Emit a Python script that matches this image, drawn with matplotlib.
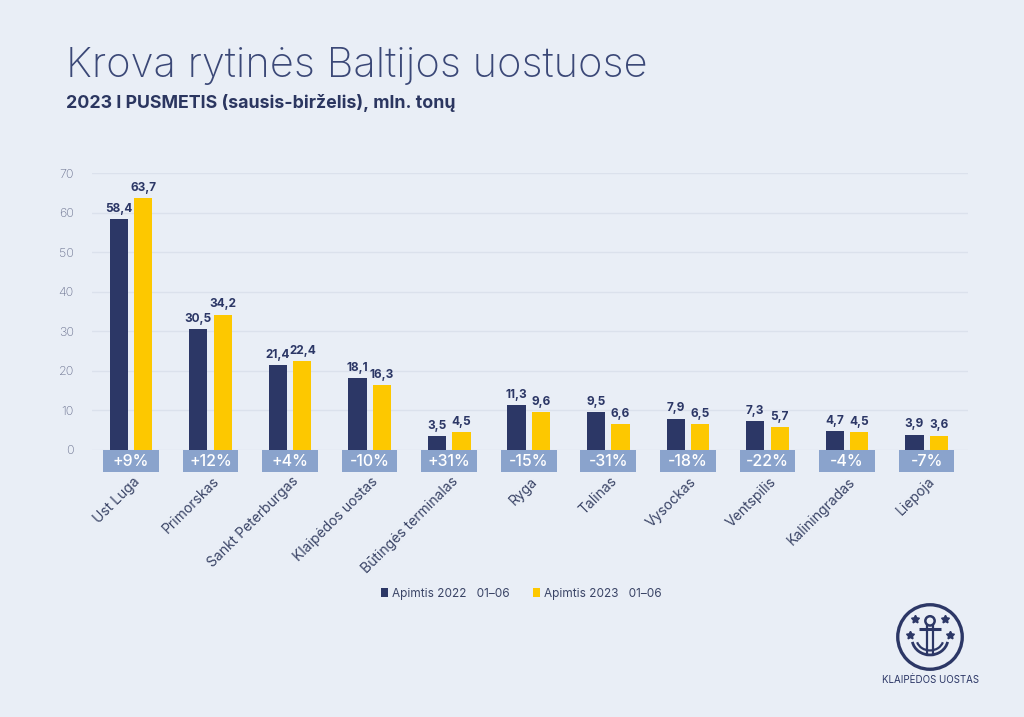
import matplotlib.pyplot as plt
from matplotlib.patches import Rectangle, Circle, Arc
import numpy as np

# data
ports = ['Ust Luga', 'Primorskas', 'Sankt Peterburgas', 'Klaipėdos uostas',
         'Būtingės terminalas', 'Ryga', 'Talinas', 'Vysockas', 'Ventspilis',
         'Kaliningradas', 'Liepoja']
vol_2022 = [58.4, 30.5, 21.4, 18.1, 3.5, 11.3, 9.5, 7.9, 7.3, 4.7, 3.9]
vol_2023 = [63.7, 34.2, 22.4, 16.3, 4.5, 9.6, 6.6, 6.5, 5.7, 4.5, 3.6]
change = ['+9%', '+12%', '+4%', '-10%', '+31%', '-15%', '-31%', '-18%', '-22%', '-4%', '-7%']
yticks = [0, 10, 20, 30, 40, 50, 60, 70]

bg = '#e9eef6'
navy = '#2c3766'
yellow = '#fdc800'
boxcol = '#8aa3cc'
txt = '#3a4466'

plt.rcParams['font.family'] = ['Inter', 'DejaVu Sans']

fig = plt.figure(figsize=(10.24, 7.17), dpi=100, facecolor=bg)
ax = fig.add_axes([0.0898, 0.3724, 0.8555, 0.3863])
ax.set_facecolor(bg)

x = np.arange(len(ports))
w = 0.23
off = 0.153
ax.bar(x - off, vol_2022, w, color=navy, label='Apimtis 2022   01–06', zorder=3)
ax.bar(x + off, vol_2023, w, color=yellow, label='Apimtis 2023   01–06', zorder=3)

def fmt(v):
    return f'{v:.1f}'.replace('.', ',')

for i in range(len(ports)):
    ax.text(x[i] - off, vol_2022[i] + 1.1, fmt(vol_2022[i]), ha='center', va='bottom',
            fontsize=8.5, fontweight='bold', color=navy, zorder=4)
    ax.text(x[i] + off, vol_2023[i] + 1.1, fmt(vol_2023[i]), ha='center', va='bottom',
            fontsize=8.5, fontweight='bold', color=navy, zorder=4)
    # change box under the bars
    ax.add_patch(Rectangle((x[i] - 0.35, -5.5), 0.70, 5.5, facecolor=boxcol,
                           edgecolor='none', clip_on=False, zorder=4))
    ax.text(x[i], -2.8, change[i], ha='center', va='center', fontsize=11.5,
            fontweight='medium', color='white', zorder=5, clip_on=False)
    # rotated port name
    ax.text(x[i] + 0.08, -7.4, ports[i], rotation=45, ha='right', va='center',
            rotation_mode='anchor', fontsize=10, color=txt, clip_on=False)

ax.set_xlim(-0.49, 10.52)
ax.set_ylim(0, 70)
ax.set_yticks(yticks)
ax.set_xticks([])
ax.tick_params(axis='y', length=0, pad=13, labelsize=9, labelcolor='#6b7290')
for lab in ax.get_yticklabels():
    lab.set_fontweight('light')
ax.grid(axis='y', color='#dbe1ec', linewidth=1, zorder=0)
for s in ax.spines.values():
    s.set_visible(False)

leg = fig.legend(loc='center', bbox_to_anchor=(0.509, 0.172), ncol=2, frameon=False,
                 fontsize=8.5, handlelength=0.6, handleheight=0.8, handletextpad=0.3,
                 columnspacing=2.0, labelcolor=txt)

fig.text(0.064, 0.908, 'Krova rytinės Baltijos uostuose', fontsize=30,
         fontweight='light', color='#3b4877', va='center')
fig.text(0.064, 0.857, '2023 I PUSMETIS (sausis-birželis), mln. tonų', fontsize=12.8,
         fontweight='bold', color='#2b3660', va='center')

# logo: ring, anchor, stars
lx, ly = 930 / 1024, 1 - 637 / 717
lax = fig.add_axes([lx - 0.035, ly - 0.05, 0.07, 0.1])
lax.set_xlim(-1, 1)
lax.set_ylim(-1, 1)
lax.set_aspect('equal')
lax.axis('off')
lax.add_patch(Circle((0, 0), 0.9, facecolor='none', edgecolor=navy, linewidth=2.4))
lax.add_patch(Circle((0, 0.45), 0.13, facecolor='none', edgecolor=navy, linewidth=1.8))
lax.plot([-0.3, 0.3], [0.22, 0.22], color=navy, lw=2.2, solid_capstyle='butt')
lax.plot([-0.07, -0.07], [0.32, -0.5], color=navy, lw=1.6)
lax.plot([0.07, 0.07], [0.32, -0.5], color=navy, lw=1.6)
lax.add_patch(Arc((0, -0.05), 1.0, 0.9, theta1=190, theta2=350, color=navy, lw=2.0))
lax.add_patch(Arc((0, -0.05), 0.75, 0.65, theta1=195, theta2=345, color=navy, lw=1.6))
lax.plot([-0.42, 0.42, -0.55, 0.55], [0.5, 0.5, 0.05, 0.05], linestyle='none',
         marker=(5, 1, 0), markersize=6, color=navy)
fig.text(lx, 1 - 680 / 717, 'KLAIPĖDOS UOSTAS', ha='center', va='center',
         fontsize=7, color=navy)

fig.savefig('out.png', dpi=100, facecolor=bg)
